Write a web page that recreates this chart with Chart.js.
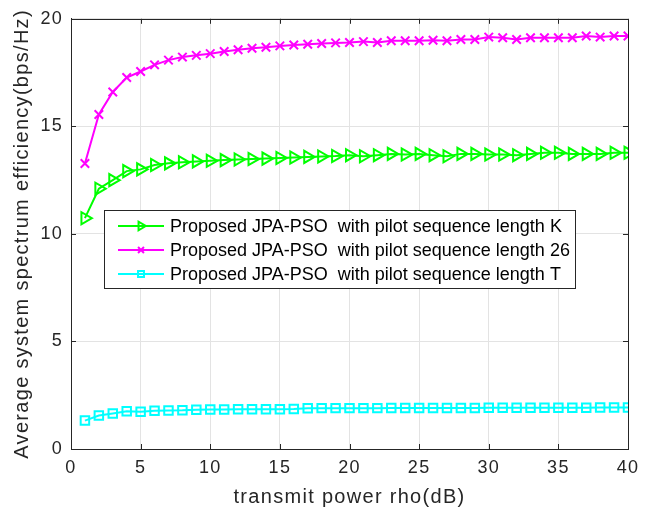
<!DOCTYPE html>
<html>
<head>
<meta charset="utf-8">
<script src="https://cdn.jsdelivr.net/npm/chart.js@4/dist/chart.umd.min.js"></script>
<style>
  html, body { margin: 0; padding: 0; background: #fff; }
  #wrap { width: 654px; height: 518px; }
</style>
</head>
<body>
<div id="wrap"><canvas id="seChart" width="654" height="518"></canvas></div>
<script>
// transmit power rho (dB)
const rhoDb = [1,2,3,4,5,6,7,8,9,10,11,12,13,14,15,16,17,18,19,20,
               21,22,23,24,25,26,27,28,29,30,31,32,33,34,35,36,37,38,39,40];

// pilot sequence length K
const seLenK = [10.73,12.10,12.50,12.92,13.00,13.20,13.28,13.33,13.37,13.40,
                13.43,13.46,13.48,13.50,13.53,13.55,13.58,13.60,13.62,13.66,
                13.61,13.66,13.72,13.69,13.72,13.66,13.61,13.72,13.72,13.69,
                13.69,13.66,13.72,13.77,13.77,13.72,13.72,13.72,13.77,13.77];

// pilot sequence length 26
const seLen26 = [13.27,15.55,16.60,17.27,17.55,17.86,18.08,18.22,18.30,18.38,
                 18.48,18.56,18.63,18.68,18.74,18.78,18.82,18.85,18.88,18.90,
                 18.94,18.90,18.98,18.98,18.98,19.00,18.98,19.04,19.04,19.15,
                 19.12,19.04,19.12,19.12,19.12,19.12,19.20,19.15,19.20,19.20];

// pilot sequence length T
const seLenT = [1.32,1.56,1.65,1.75,1.73,1.78,1.79,1.80,1.83,1.84,
                1.84,1.85,1.85,1.85,1.85,1.86,1.89,1.90,1.90,1.90,
                1.90,1.90,1.91,1.91,1.91,1.91,1.91,1.91,1.91,1.92,
                1.92,1.92,1.92,1.92,1.92,1.92,1.92,1.93,1.93,1.93];

const seriesLabels = [
  'Proposed JPA-PSO  with pilot sequence length K',
  'Proposed JPA-PSO  with pilot sequence length 26',
  'Proposed JPA-PSO  with pilot sequence length T'
];

const xTicks = [0, 5, 10, 15, 20, 25, 30, 35, 40];
const yTicks = [0, 5, 10, 15, 20];

const axisColor = '#262626';
const fontFamily = '"Liberation Sans", Arial, Helvetica, sans-serif';

const toPoints = vals => vals.map((v, i) => ({ x: rhoDb[i], y: v }));

const datasets = [
  {
    label: seriesLabels[0],
    data: toPoints(seLenK),
    borderColor: '#00ff00',
    backgroundColor: 'rgba(0,0,0,0)',
    borderWidth: 2,
    pointStyle: 'triangle',
    pointRotation: 90,
    pointRadius: 7,
    pointBorderWidth: 2,
    pointBackgroundColor: 'rgba(0,0,0,0)'
  },
  {
    label: seriesLabels[1],
    data: toPoints(seLen26),
    borderColor: '#ff00ff',
    backgroundColor: 'rgba(0,0,0,0)',
    borderWidth: 2,
    pointStyle: 'crossRot',
    pointRadius: 6,
    pointBorderWidth: 2
  },
  {
    label: seriesLabels[2],
    data: toPoints(seLenT),
    borderColor: '#00ffff',
    backgroundColor: 'rgba(0,0,0,0)',
    borderWidth: 2,
    pointStyle: 'rect',
    pointRadius: 6,
    pointBorderWidth: 2,
    pointBackgroundColor: 'rgba(0,0,0,0)'
  }
];

// the matlab text is a bit wider than liberation sans
const wideText = {
  id: 'wideText',
  beforeDraw(chart) {
    chart.ctx.letterSpacing = '1.3px';
  }
};

// box around the plot area plus inward tick marks, like matlab
const frameBox = {
  id: 'frameBox',
  afterDatasetsDraw(chart) {
    const { ctx, chartArea: a, scales } = chart;
    ctx.save();
    ctx.strokeStyle = axisColor;
    ctx.lineWidth = 1;
    ctx.beginPath();
    xTicks.forEach(t => {
      const px = Math.round(scales.x.getPixelForValue(t)) + 0.5;
      ctx.moveTo(px, a.bottom); ctx.lineTo(px, a.bottom - 5);
      ctx.moveTo(px, a.top); ctx.lineTo(px, a.top + 5);
    });
    yTicks.forEach(t => {
      const py = Math.round(scales.y.getPixelForValue(t)) + 0.5;
      ctx.moveTo(a.left, py); ctx.lineTo(a.left + 5, py);
      ctx.moveTo(a.right, py); ctx.lineTo(a.right - 5, py);
    });
    ctx.stroke();
    ctx.strokeRect(Math.round(a.left) + 0.5, Math.round(a.top) + 0.5,
                   Math.round(a.right - a.left), Math.round(a.bottom - a.top));
    ctx.restore();
  }
};

// legend box drawn inside the axes
const innerLegend = {
  id: 'innerLegend',
  afterDraw(chart) {
    const { ctx } = chart;
    const box = { x: 104.5, y: 210.5, w: 471, h: 78 };
    ctx.save();
    ctx.letterSpacing = '0px';
    ctx.fillStyle = '#ffffff';
    ctx.fillRect(box.x, box.y, box.w, box.h);
    ctx.strokeStyle = axisColor;
    ctx.lineWidth = 1;
    ctx.strokeRect(box.x, box.y, box.w, box.h);
    ctx.font = '18px ' + fontFamily;
    ctx.textBaseline = 'middle';
    chart.data.datasets.forEach((ds, i) => {
      const cy = 226 + i * 24;
      ctx.strokeStyle = ds.borderColor;
      ctx.lineWidth = 2;
      ctx.beginPath();
      ctx.moveTo(118, cy); ctx.lineTo(164, cy);
      ctx.stroke();
      if (Chart.helpers && Chart.helpers.drawPoint) {
        ctx.lineWidth = ds.pointBorderWidth;
        ctx.fillStyle = 'rgba(0,0,0,0)';
        Chart.helpers.drawPoint(ctx, {
          pointStyle: ds.pointStyle,
          rotation: ds.pointRotation || 0,
          radius: ds.pointRadius * 0.7,
          borderWidth: ds.pointBorderWidth
        }, 141, cy);
      }
      ctx.fillStyle = '#000000';
      ctx.fillText(ds.label, 170, cy + 1);
    });
    ctx.restore();
  }
};

new Chart(document.getElementById('seChart'), {
  type: 'line',
  data: { datasets },
  options: {
    responsive: false,
    animation: false,
    layout: { padding: { left: 0, top: 17, right: 26, bottom: 0 } },
    plugins: {
      legend: { display: false },
      tooltip: { enabled: false }
    },
    scales: {
      x: {
        type: 'linear',
        min: 0,
        max: 40,
        afterFit: s => { s.height = 69; },
        afterBuildTicks: s => { s.ticks = xTicks.map(v => ({ value: v })); },
        ticks: { color: axisColor, font: { family: fontFamily, size: 18 }, padding: 8, maxRotation: 0 },
        grid: { color: '#e3e3e3', drawTicks: false },
        border: { color: axisColor },
        title: {
          display: true,
          text: 'transmit power rho(dB)',
          color: axisColor,
          font: { family: fontFamily, size: 20 },
          padding: { top: 0, bottom: 9 }
        }
      },
      y: {
        type: 'linear',
        min: 0,
        max: 20,
        afterFit: s => { s.width = 71; },
        afterBuildTicks: s => { s.ticks = yTicks.map(v => ({ value: v })); },
        ticks: { color: axisColor, font: { family: fontFamily, size: 18 }, padding: 8 },
        grid: { color: '#e3e3e3', drawTicks: false },
        border: { color: axisColor },
        title: {
          display: true,
          text: 'Average system spectrum efficiency(bps/Hz)',
          color: axisColor,
          font: { family: fontFamily, size: 20 },
          padding: { top: 10, bottom: 0 }
        }
      }
    }
  },
  plugins: [wideText, frameBox, innerLegend]
});
</script>
</body>
</html>
